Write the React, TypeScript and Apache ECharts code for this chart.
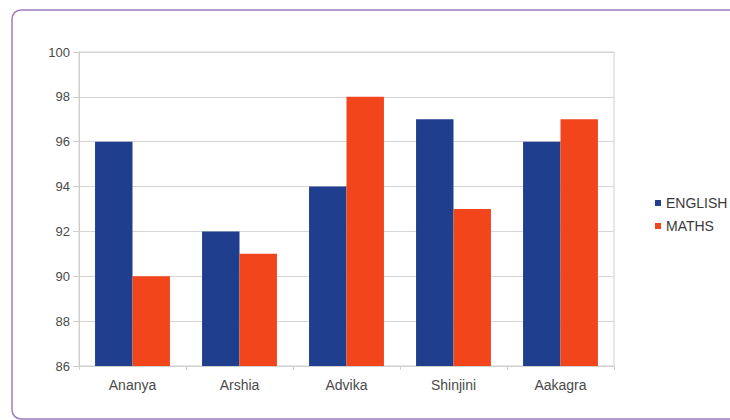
import React, { useEffect, useRef } from "react";
import * as echarts from "echarts";

const categories = ["Ananya", "Arshia", "Advika", "Shinjini", "Aakagra"];
const english = [96, 92, 94, 97, 96];
const maths = [90, 91, 98, 93, 97];
const seriesNames = ["ENGLISH", "MATHS"];

export default function App() {
  const ref = useRef<HTMLDivElement>(null);
  useEffect(() => {
    if (!ref.current) return;
    const chart = echarts.init(ref.current, undefined, { renderer: "svg" });
    const font = "'Liberation Sans', Arial, sans-serif";
    chart.setOption({
      animation: false,
      backgroundColor: "#ffffff",
      textStyle: { fontFamily: font },
      graphic: [
        {
          type: "rect",
          shape: { x: 12, y: 10, width: 740, height: 409, r: 9 },
          style: { fill: "none", stroke: "#9e7bbf", lineWidth: 1.5 },
          silent: true,
          z: -1,
        },
      ],
      grid: {
        left: 79,
        right: 116,
        top: 52,
        bottom: 54,
        show: true,
        borderColor: "#cfcfcf",
        borderWidth: 1,
      },
      legend: {
        orient: "vertical",
        left: 650,
        top: 191,
        itemWidth: 6,
        itemHeight: 6,
        itemGap: 9,
        icon: "rect",
        textStyle: { color: "#3a3a3a", fontSize: 14, fontFamily: font },
        data: seriesNames,
      },
      xAxis: {
        type: "category",
        data: categories,
        axisLine: { lineStyle: { color: "#cfcfcf" } },
        axisTick: { show: true, length: 4, lineStyle: { color: "#cfcfcf" } },
        axisLabel: { color: "#4a4a4a", fontSize: 14, margin: 12, fontFamily: font },
      },
      yAxis: {
        type: "value",
        min: 86,
        max: 100,
        interval: 2,
        axisLine: { show: true, lineStyle: { color: "#cfcfcf" } },
        axisTick: { show: true, length: 6, lineStyle: { color: "#cfcfcf" } },
        axisLabel: { color: "#4a4a4a", fontSize: 13, margin: 9, fontFamily: font },
        splitLine: { lineStyle: { color: "#d6d6d6" } },
      },
      series: [
        {
          name: seriesNames[0],
          type: "bar",
          data: english,
          itemStyle: { color: "#1f3e8e" },
          barGap: "0%",
          barCategoryGap: "30%",
        },
        {
          name: seriesNames[1],
          type: "bar",
          data: maths,
          itemStyle: { color: "#f2451c" },
          barGap: "0%",
          barCategoryGap: "30%",
        },
      ],
    });
    return () => chart.dispose();
  }, []);
  return (
    <div
      ref={ref}
      style={{ position: "fixed", left: 0, top: 0, width: 730, height: 420 }}
    />
  );
}
